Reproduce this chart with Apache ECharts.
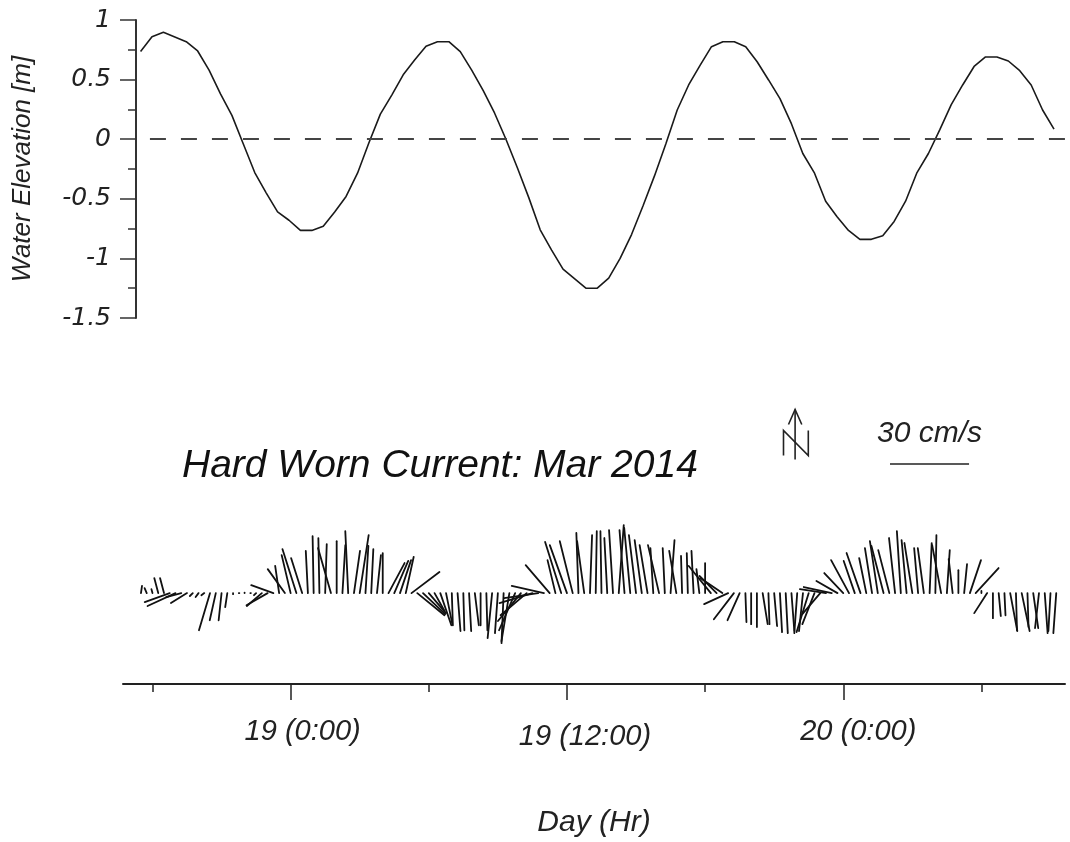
<!DOCTYPE html>
<html>
<head>
<meta charset="utf-8">
<title>Hard Worn Current: Mar 2014</title>
<script src="https://cdn.jsdelivr.net/npm/echarts@6.0.0/dist/echarts.min.js"></script>
<style>
    html, body { margin: 0; padding: 0; background: #fff; }
    #chart { width: 1070px; height: 842px; }
</style>
</head>
<body>
<div id="chart"></div>
<script>
// Water elevation [m], every 30 min. Hours are counted from 19 Mar 0:00.
const elevStartHour = -6.5;
const elevStepHours = 0.5;
const elevation = [
    0.735, 0.86, 0.897, 0.858, 0.818, 0.74, 0.58, 0.38, 0.2, -0.04,
    -0.28, -0.45, -0.61, -0.68, -0.765, -0.765, -0.73, -0.61, -0.48, -0.285,
    -0.03, 0.21, 0.37, 0.54, 0.665, 0.78, 0.818, 0.818, 0.735, 0.58,
    0.41, 0.22, 0.0, -0.24, -0.49, -0.76, -0.93, -1.09, -1.17, -1.25,
    -1.25, -1.165, -1.0, -0.8, -0.56, -0.31, -0.04, 0.245, 0.455, 0.62,
    0.776, 0.818, 0.818, 0.776, 0.65, 0.497, 0.34, 0.13, -0.12, -0.28,
    -0.52, -0.65, -0.765, -0.84, -0.84, -0.81, -0.69, -0.52, -0.28, -0.12,
    0.08, 0.29, 0.455, 0.61, 0.69, 0.69, 0.656, 0.575, 0.455, 0.245,
    0.084
];

// Current vectors every 15 min: east and north components [cm/s]
const stickStartHour = -6.75;
const stickStepHours = 0.25;
const currentEast = [
    0, 0.4, -0.8, -0.4, -1.5, -1.5, -9.5, -10.6, -5.7, -6.1,
    -1.1, -1.1, -1.1, -4.2, -2.3, -1.1, -0.8, 0, 0.2, 0,
    0.2, -0.8, -5.7, -8.0, -8.4, -1.5, -6.5, -3.4, -5.3, -4.2,
    -0.8, -0.4, -0.4, 0.6, -4.9, 0, 1.1, -1.1, 2.3, 3.4,
    1.1, 0.8, 1.5, 0, 6.1, 5.3, 4.2, 3.0, 10.6, 10.3,
    8.4, 6.5, 3.8, 4.2, 2.3, 0.4, 1.1, 0.4, 0.8, 1.5,
    0, 0.4, -1.7, -1.1, -0.8, -3.0, -6.1, -8.7, -9.9, -12.5,
    -12.9, -12.2, -9.1, -3.0, -6.1, -6.5, -4.9, -0.8, -2.7, 0.8,
    0.4, -0.4, -1.1, -1.5, 1.9, -1.9, -2.3, -2.7, -2.7, -3.0,
    -1.1, -4.2, -0.8, 1.5, -2.7, -0.4, -0.4, -0.8, -1.1, 0,
    -8.4, -6.5, -8.4, -9.1, -7.6, -4.6, 0.4, 0, 0, 1.9,
    0.4, 1.1, 0.8, 0.8, 1.1, -1.1, -1.5, -4.6, -4.6, -6.8,
    -9.9, -10.6, -8.0, -7.2, -6.8, -4.2, -5.3, -2.7, -2.7, -3.0,
    -4.6, -4.2, -2.3, -1.5, -1.9, -3.0, -1.5, -2.3, 0.8, 0.4,
    -3.4, 1.1, -1.5, 0, 1.1, 4.2, 8.7, 0, -4.9, 0,
    0.8, 0.4, 2.7, 0.4, 3.0, 0.4, 1.9, -1.5, 1.1, -0.8,
    -1.1
];
const currentNorth = [
    0, 2.7, 1.9, 1.5, 5.7, 5.7, -3.4, -4.9, -1.5, -3.8,
    -1.1, -1.5, -0.8, -14.1, -10.3, -10.3, -5.3, -0.4, 0, 0.2,
    0, -0.8, -4.9, -4.6, 3.0, 10.3, 9.1, 14.4, 16.7, 13.3,
    16.0, 21.6, 20.9, 18.6, 17.1, 19.7, 18.2, 23.5, 16.0, 22.0,
    17.9, 16.7, 14.4, 15.2, 11.4, 12.2, 12.5, 13.7, 8.0, -8.4,
    -8.0, -7.6, -6.8, -12.2, -11.4, -12.2, -14.4, -14.1, -14.4, -12.2,
    -12.2, -14.1, -17.1, -15.2, -19.0, -18.2, -14.1, -10.6, -8.4, -3.8,
    -1.9, 2.7, 10.6, 12.5, 19.4, 18.2, 19.7, 22.8, 19.7, 22.0,
    23.5, 23.5, 20.9, 23.9, 25.8, 23.9, 24.7, 22.0, 20.1, 18.2,
    17.1, 18.2, 17.1, 20.1, 16.0, 14.1, 15.2, 16.0, 9.1, 11.4,
    10.3, 6.5, 5.7, -4.2, -9.9, -10.3, -11.0, -11.8, -12.9, -11.8,
    -11.8, -12.5, -14.8, -15.2, -14.4, -15.2, -14.4, -14.8, -11.8, -8.0,
    1.5, 2.3, 4.6, 7.6, 12.5, 12.2, 15.2, 13.3, 17.1, 19.7,
    17.9, 16.3, 20.9, 23.5, 20.1, 19.0, 17.1, 17.1, 19.0, 22.0,
    18.2, 16.3, 12.9, 8.7, 11.0, 12.5, 9.5, 0.8, -7.6, -9.5,
    -8.7, -8.4, -14.4, -14.1, -14.4, -12.9, -13.3, -13.3, -15.2, -14.4,
    -15.2
];

// Time axis ticks (hours from 19 Mar 0:00)
const dayTickHours = [0, 12, 24];
const dayTickLabels = ['19 (0:00)', '19 (12:00)', '20 (0:00)'];
const sixHourTicks = [-6, 6, 18, 30];

// Scale bar for the stick plot
const scaleBarSpeed = 30;
const scaleBarLabel = '30 cm/s';

const FONT = 'Liberation Sans, Arial, sans-serif';
const INK = '#222';

const elevData = elevation.map((v, i) => [elevStartHour + i * elevStepHours, v]);
const stickData = currentEast.map((u, i) => [stickStartHour + i * stickStepHours, u, currentNorth[i]]);

const chart = echarts.init(document.getElementById('chart'));

const stickAxisMin = -7.28;
const stickAxisMax = 33.63;

// the printed labels sit a little right of their ticks, the middle one a bit lower
const labelStyle = { fontFamily: FONT, fontStyle: 'italic', fontSize: 29, color: INK };
const dayLabelRich = {
    d0: Object.assign({ padding: [0, 0, 0, 24] }, labelStyle),
    d1: Object.assign({ padding: [5, 0, 0, 36] }, labelStyle),
    d2: Object.assign({ padding: [0, 0, 0, 30] }, labelStyle)
};

const option = {
    animation: false,
    backgroundColor: '#fff',
    title: {
        text: 'Hard Worn Current: Mar 2014',
        left: 177,
        top: 442,
        textStyle: {
            fontFamily: FONT,
            fontStyle: 'italic',
            fontWeight: 'normal',
            fontSize: 39,
            color: '#111'
        }
    },
    grid: [
        { left: 136, right: 0, top: 20, bottom: 524 },
        { left: 123, right: 5, top: 435, bottom: 158 }
    ],
    xAxis: [
        {
            gridIndex: 0,
            type: 'value',
            min: -6.7,
            max: 34.2,
            show: false
        },
        {
            gridIndex: 1,
            type: 'value',
            min: stickAxisMin,
            max: stickAxisMax,
            position: 'bottom',
            name: 'Day (Hr)',
            nameLocation: 'middle',
            nameGap: 124,
            nameTextStyle: { fontFamily: FONT, fontStyle: 'italic', fontSize: 30, color: INK },
            axisLine: { show: true, onZero: false, lineStyle: { color: INK, width: 2 } },
            axisTick: { show: true, length: 16, customValues: dayTickHours, lineStyle: { color: INK, width: 1.5 } },
            axisLabel: {
                customValues: dayTickHours,
                margin: 33,
                rich: dayLabelRich,
                formatter: function (v) {
                    const i = dayTickHours.indexOf(v);
                    return '{d' + i + '|' + dayTickLabels[i] + '}';
                }
            },
            splitLine: { show: false }
        },
        {
            gridIndex: 1,
            type: 'value',
            min: stickAxisMin,
            max: stickAxisMax,
            position: 'bottom',
            axisLine: { show: false, onZero: false },
            axisTick: { show: true, length: 8, customValues: sixHourTicks, lineStyle: { color: INK, width: 1.5 } },
            axisLabel: { show: false },
            splitLine: { show: false }
        }
    ],
    yAxis: [
        {
            gridIndex: 0,
            type: 'value',
            min: -1.5,
            max: 1,
            interval: 0.5,
            name: 'Water Elevation [m]',
            nameLocation: 'middle',
            nameGap: 100,
            nameTextStyle: { fontFamily: FONT, fontStyle: 'italic', fontSize: 26, color: INK },
            axisLine: { show: true, onZero: false, lineStyle: { color: '#333', width: 2 } },
            axisTick: { show: true, length: 16, lineStyle: { color: '#333', width: 1.5 } },
            minorTick: { show: true, splitNumber: 2, length: 8, lineStyle: { color: '#333', width: 1.5 } },
            splitLine: { show: false },
            axisLabel: {
                margin: 25,
                fontFamily: 'DejaVu Sans',
                fontStyle: 'italic',
                fontSize: 25,
                color: INK
            }
        },
        {
            gridIndex: 1,
            type: 'value',
            min: -34.5,
            max: 60,
            show: false
        }
    ],
    graphic: [
        {
            // north arrow
            type: 'group',
            left: 781,
            top: 407,
            children: [
                { type: 'polyline', shape: { points: [[12.3, 1], [12.3, 51]] }, style: { stroke: INK, lineWidth: 1.6, fill: null } },
                { type: 'polyline', shape: { points: [[5.7, 16], [12.3, 1], [19, 16]] }, style: { stroke: INK, lineWidth: 1.6, fill: null } },
                { type: 'polyline', shape: { points: [[0.7, 47], [0.7, 22], [25.5, 47], [25.5, 22]] }, style: { stroke: INK, lineWidth: 1.6, fill: null } }
            ]
        }
    ],
    series: [
        {
            name: 'Water Elevation',
            type: 'line',
            xAxisIndex: 0,
            yAxisIndex: 0,
            data: elevData,
            symbol: 'none',
            lineStyle: { color: '#1a1a1a', width: 1.6 },
            markLine: {
                silent: true,
                symbol: 'none',
                label: { show: false },
                lineStyle: { color: '#444', width: 2, type: [16, 15] },
                data: [[{ coord: [-6.09, 0] }, { coord: [34.2, 0] }]]
            }
        },
        {
            name: 'Current',
            type: 'custom',
            xAxisIndex: 1,
            yAxisIndex: 1,
            clip: false,
            data: stickData,
            encode: { x: 0, y: 2 },
            renderItem: function (params, api) {
                const base = api.coord([api.value(0), 0]);
                const unit = api.size([0, 1])[1];
                return {
                    type: 'line',
                    shape: {
                        x1: base[0],
                        y1: base[1],
                        x2: base[0] + api.value(1) * unit,
                        y2: base[1] - api.value(2) * unit
                    },
                    style: { stroke: '#111', lineWidth: 1.8, lineCap: 'round' }
                };
            }
        },
        {
            name: 'Scale',
            type: 'custom',
            xAxisIndex: 1,
            yAxisIndex: 1,
            clip: false,
            silent: true,
            data: [[26.03, 49, scaleBarSpeed]],
            renderItem: function (params, api) {
                const start = api.coord([api.value(0), api.value(1)]);
                const len = api.size([0, api.value(2)])[1];
                return {
                    type: 'group',
                    children: [
                        {
                            type: 'line',
                            shape: { x1: start[0], y1: start[1], x2: start[0] + len, y2: start[1] },
                            style: { stroke: INK, lineWidth: 1.6 }
                        },
                        {
                            type: 'text',
                            style: {
                                x: start[0] + len / 2,
                                y: start[1] - 30,
                                text: scaleBarLabel,
                                align: 'center',
                                verticalAlign: 'middle',
                                font: 'italic 30px ' + FONT,
                                fill: INK
                            }
                        }
                    ]
                };
            }
        }
    ]
};

chart.setOption(option);
</script>
</body>
</html>
